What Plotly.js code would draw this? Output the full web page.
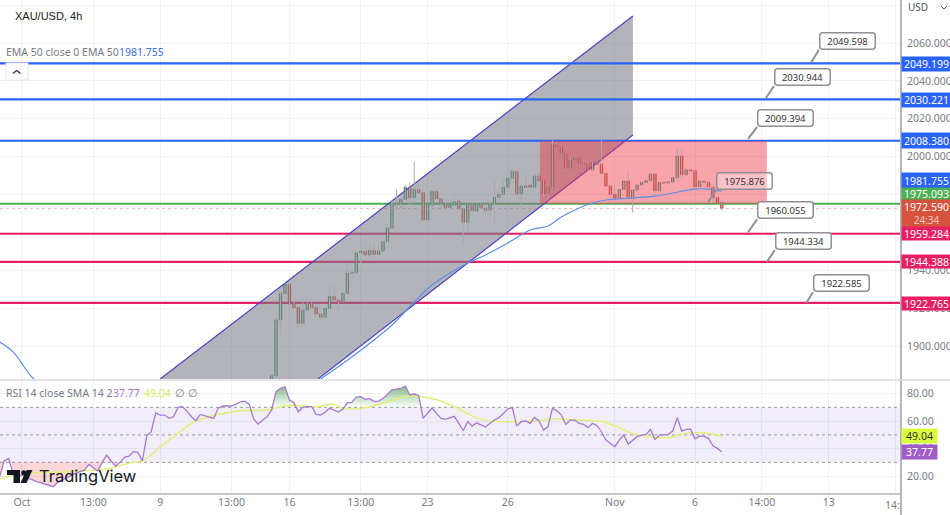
<!DOCTYPE html>
<html><head><meta charset="utf-8">
<script src="https://cdn.plot.ly/plotly-3.0.1.min.js"></script>
<style>html,body{margin:0;padding:0;background:#fff}#c{width:950px;height:515px}</style>
</head><body><div id="c"></div>
<script>
const firstBar = 56;
const opens = [1882.6,1884.2,1913.8,1927.7,1932.6,1922.2,1920.4,1912.0,1918.9,1922.6,1920.4,1916.9,1915.2,1919.9,1926.2,1924.3,1923.4,1927.8,1938.4,1938.7,1949.3,1950.0,1948.1,1950.5,1948.4,1950.2,1955.1,1962.2,1974.5,1975.7,1977.5,1983.8,1978.3,1982.7,1981.0,1966.6,1974.3,1981.7,1977.8,1975.0,1973.2,1974.3,1976.6,1972.5,1965.3,1975.0,1971.3,1975.0,1972.9,1971.7,1975.4,1978.5,1980.1,1983.8,1988.5,1992.3,1980.3,1984.5,1985.0,1983.8,1989.8,1987.3,1980.6,1983.8,2006.3,2004.9,2001.8,1993.8,1998.2,1999.3,1996.5,1996.0,1993.0,1997.2,1996.0,1991.2,1984.5,1980.1,1978.0,1982.7,1987.1,1978.0,1982.4,1985.0,1986.4,1987.3,1990.8,1982.0,1986.4,1986.1,1986.6,1988.9,2000.3,1990.5,1993.0,1992.6,1984.2,1987.1,1986.4,1983.8,1978.3,1975.7];
const highs = [1885.6,1919.0,1928.2,1933.1,1933.1,1924.3,1920.8,1925.2,1922.9,1924.3,1920.8,1917.3,1920.8,1931.4,1932.2,1924.7,1928.7,1943.7,1939.3,1949.8,1956.9,1956.9,1954.2,1954.2,1953.4,1955.5,1962.5,1977.1,1982.7,1978.0,1985.0,1986.3,1997.3,1985.0,1981.3,1974.6,1982.0,1982.0,1978.2,1975.4,1974.5,1980.6,1977.0,1972.9,1975.7,1975.4,1975.4,1975.4,1973.6,1976.2,1987.7,1980.6,1987.7,1989.4,1993.8,1992.6,1985.0,1991.2,1985.4,1991.2,1991.5,1987.7,1984.2,2009.7,2007.0,2005.6,2002.1,1999.1,2000.0,1999.6,1996.8,1996.3,1997.3,1997.5,2008.8,1991.5,1984.9,1984.2,1983.1,1987.5,1992.1,1982.8,1985.4,1986.8,1987.7,1991.2,1991.2,1986.8,1986.8,1987.0,1989.3,2004.4,2003.5,1993.3,1993.3,1992.9,1987.5,1987.5,1986.8,1984.2,1978.7,1976.0];
const lows = [1882.1,1883.8,1906.4,1927.5,1921.8,1920.3,1908.8,1911.6,1918.2,1919.9,1916.4,1913.4,1914.8,1919.6,1923.4,1919.9,1923.1,1927.5,1938.0,1938.4,1943.7,1947.5,1946.3,1946.3,1948.1,1949.8,1954.8,1961.8,1972.7,1972.7,1977.1,1974.5,1978.0,1980.6,1965.7,1965.2,1973.6,1977.5,1971.0,1972.9,1972.9,1973.9,1972.2,1954.2,1960.4,1971.1,1971.0,1972.6,1969.2,1968.7,1963.9,1978.2,1979.7,1983.4,1988.2,1979.7,1972.7,1983.4,1983.4,1983.3,1987.0,1978.9,1977.1,1983.3,2004.4,2001.4,1993.0,1993.3,1997.9,1996.1,1995.6,1992.6,1992.6,1995.6,1990.8,1984.2,1979.7,1977.6,1977.6,1982.4,1977.1,1970.4,1982.0,1984.7,1986.1,1987.0,1979.7,1981.7,1985.7,1985.7,1986.3,1988.0,1988.0,1990.1,1992.2,1983.3,1983.8,1986.3,1983.8,1975.4,1975.4,1971.5];
const closes = [1884.4,1913.8,1927.8,1932.6,1922.2,1920.4,1912.0,1918.9,1922.6,1920.4,1916.9,1915.2,1919.9,1926.2,1924.3,1923.4,1927.8,1938.4,1938.9,1949.3,1950.2,1948.1,1950.5,1948.4,1950.2,1955.1,1962.2,1974.5,1975.7,1977.5,1983.8,1978.3,1982.7,1981.0,1966.6,1974.3,1981.7,1977.8,1975.0,1973.2,1974.3,1976.2,1972.5,1965.3,1975.0,1971.5,1975.0,1972.9,1971.7,1975.0,1978.5,1980.1,1983.8,1988.5,1992.3,1980.3,1984.5,1983.8,1983.8,1989.8,1987.3,1980.6,1983.8,2006.3,2004.9,2001.8,1993.8,1998.2,1999.3,1996.5,1996.0,1993.0,1997.0,1996.0,1991.2,1984.5,1980.1,1978.0,1982.7,1987.1,1978.0,1982.4,1985.0,1986.4,1987.3,1990.8,1982.0,1986.4,1986.1,1986.6,1988.9,2000.3,1990.5,1993.0,1992.6,1984.2,1987.1,1986.6,1984.2,1978.3,1975.7,1972.6];

const emaBars = [-5,-2,2,4,null,67,74,83,88,92,96,100,104,109,114,118,121,125,128,131,137,142,146,151,154,157];
const emaVals = [1902.1,1896.9,1884.2,1880,null,1882.6,1894.2,1911.1,1923.3,1932.2,1938.6,1943.8,1948.1,1954.4,1961.3,1963.4,1968.1,1972.9,1975.5,1977.1,1978.2,1979.2,1980.8,1982.9,1982.9,1981.755];

const rsiFirstBar = -5;
const rsiVals = [19.6,31.0,32.9,22.0,19.6,20.8,18.4,17.9,16.4,15.5,14.5,13.5,12.3,15.5,17.2,18.8,20.8,22,23.2,24.4,28.5,26.4,23.7,30,35.3,31,27.3,30,33.6,34.6,37.8,37.3,31,49.4,52.3,65.9,64.4,64.4,62,63.2,70,70.5,67.3,63.2,60.3,64.9,63.9,63.2,62,69.3,71,71,71,72.4,74.1,74.6,72.2,61.5,57.9,60.8,63.2,68.1,81.4,83.8,85,75.3,73.4,66.8,70,70.5,70.5,64.9,64.4,66.4,69.3,68.1,66.6,68.8,73.4,73.6,77.5,77.8,75.8,76.3,74.4,74.6,76.5,79.5,82.8,83.3,83.8,85.5,79,79.9,78.5,62,66.1,69.5,65.6,62,61.3,62.5,63.5,58.4,53,59.6,56.4,58.8,57.2,55.7,58.4,60.8,62.5,65.6,68.8,70,56.4,59.6,60.1,58.4,62.7,60.1,53.5,55.9,69.3,67.6,64.4,57.6,60.8,60.8,58.4,57.6,55.2,58.4,56.7,52.3,46.2,43.8,41.4,46.2,49.9,43.3,46.2,48.7,49.9,50.4,54,46.7,49.9,50.4,50.4,52.8,62.5,52.8,54,54.2,47.2,49.1,49.1,47.5,42.1,40.2,37.77];
const smaBars = [-5,0,10,20,21,25,27,32,35,39,42,46,49,55,59,63,66,70,72,75,78,82,87,91,94,97,103,107,115,120,125,130,133,137,141,145,149,153,157];
const smaVals = [17.9,22,23.2,25.6,26.8,30,31,43.8,51.1,60.3,63.2,66.1,67.6,68.1,71.2,71,70.5,72.2,69.3,69,70.5,74.1,78.5,77,74.6,70.5,61.3,59.6,60.3,61.5,60.8,59.6,56.7,51.1,48.7,47.9,51.1,51.6,49.04];

const channelBars = [31,137.06,137.06,66.4];
const channelVals = [1882.6,2074.3,2011.4,1882.6];
const zoneBars = [116.2,167.1];
const zoneVals = [1975.0,2008.3];

const blueLevels = [2049.199,2030.221,2008.380];
const greenLevel = 1975.093;
const pinkLevels = [1959.284,1944.388,1922.765];
const lastPrice = 1972.590;

const calloutText = ['2049.598','2030.944','2009.394','1975.876','1960.055','1944.334','1922.585'];
const calloutBar = [177,166.9,162.9,153.9,162.9,167.1,175.9];
const calloutAx = [8,8,9,8,9,8,7];
const calloutAy = [-13,-12,-12,-12,-13,-12,-11];

const xTickVals = [0,16,31,47,60,76,91,109,133,151,166,181,196];
const xTickText = ['Oct','13:00','9','13:00','16','13:00','23','26','Nov','6','14:00','13',''];

const xr = [-4.93,197.2], yr = [1882.6,2082.7], rr = [7.0,89.2];
const W = 901, H = 494;
const fx = p => p/W, fy = p => 1-p/H;
const BLUE='#2962ff', PINK='#e91e63', GREEN='#4caf50', GRAY='#787b86';
const FONT='"Noto Sans", sans-serif';
const barsN = opens.map((_,i)=>firstBar+i);
const rsiBars = rsiVals.map((_,i)=>rsiFirstBar+i);
const px = {xaxis:'x2',yaxis:'y'}, pr = {xaxis:'x',yaxis:'y2'};
const hl = (v,c,w,extra) => Object.assign({type:'scatter',mode:'lines',x:xr,y:[v,v],line:Object.assign({color:c,width:w},extra||{}),hoverinfo:'skip'},px);
const rl = (v) => Object.assign({type:'scatter',mode:'lines',x:xr,y:[v,v],line:{color:'#9a9aa2',width:1,dash:'3px,3px'},hoverinfo:'skip'},pr);

// wicks as separate thin gray segments
const wx=[],wy=[];
barsN.forEach((b,i)=>{wx.push(b,b,null);wy.push(lows[i],highs[i],null);});

// RSI excursion polygons relative to a level
function runs(level,above){
  const xs=[],ys=[];
  let cur=null;
  const test=v=>above?v>level:v<level;
  for(let i=0;i<rsiVals.length;i++){
    const v=rsiVals[i];
    if(test(v)){
      if(!cur){cur=[];
        if(i>0){const p=rsiVals[i-1];cur.push([rsiBars[i-1]+(level-p)/(v-p),level]);}
        else cur.push([rsiBars[i],level]);}
      cur.push([rsiBars[i],v]);
    } else if(cur){
      const p=rsiVals[i-1];cur.push([rsiBars[i-1]+(level-p)/(v-p),level]);
      cur.forEach(q=>{xs.push(q[0]);ys.push(q[1]);});xs.push(null);ys.push(null);cur=null;
    }
  }
  return {xs,ys};
}
const over=runs(70,true), under=runs(30,false);

const data=[
  Object.assign({type:'scatter',mode:'lines',x:xr,y:[70,70],line:{width:0},hoverinfo:'skip'},pr),
  Object.assign({type:'scatter',mode:'lines',x:xr,y:[30,30],line:{width:0},fill:'tonexty',fillcolor:'rgba(126,87,194,0.1)',hoverinfo:'skip'},pr),
  rl(70),rl(50),rl(30),
  Object.assign({type:'scatter',mode:'none',x:over.xs,y:over.ys,fill:'toself',hoverinfo:'skip',
    fillgradient:{type:'vertical',start:70,stop:86,colorscale:[[0,'rgba(76,175,80,0.03)'],[1,'rgba(56,142,60,0.65)']]}},pr),
  Object.assign({type:'scatter',mode:'none',x:under.xs,y:under.ys,fill:'toself',fillcolor:'rgba(242,90,100,0.25)',hoverinfo:'skip'},pr),
  Object.assign({type:'scatter',mode:'lines',x:smaBars,y:smaVals,line:{color:'#e4ee7a',width:1.5,shape:'spline'},hoverinfo:'skip'},pr),
  Object.assign({type:'scatter',mode:'lines',x:rsiBars,y:rsiVals,line:{color:'#a877d2',width:1.3},hoverinfo:'skip'},pr),

  hl(lastPrice,'#f0a8a8',0.8,{dash:'dot'}),
  hl(greenLevel,GREEN,2),
  ...pinkLevels.map(v=>hl(v,PINK,2.2)),
  Object.assign({type:'scatter',mode:'lines',x:channelBars.concat(channelBars[0]),y:channelVals.concat(channelVals[0]),fill:'toself',fillcolor:'rgba(120,123,134,0.57)',line:{width:0},hoverinfo:'skip'},px),
  Object.assign({type:'scatter',mode:'lines',x:[channelBars[0],channelBars[1],null,channelBars[2],channelBars[3]],y:[channelVals[0],channelVals[1],null,channelVals[2],channelVals[3]],line:{color:'#4a42c4',width:1.2},hoverinfo:'skip'},px),
  ...blueLevels.map(v=>hl(v,BLUE,2.2)),
  Object.assign({type:'scatter',mode:'lines',x:[zoneBars[0],zoneBars[1],zoneBars[1],zoneBars[0],zoneBars[0]],y:[zoneVals[0],zoneVals[0],zoneVals[1],zoneVals[1],zoneVals[0]],fill:'toself',fillcolor:'rgba(242,54,69,0.45)',line:{width:0},hoverinfo:'skip'},px),
  Object.assign({type:'scatter',mode:'lines',x:emaBars,y:emaVals,connectgaps:false,line:{color:'#5a8fe8',width:1.2,shape:'spline'},hoverinfo:'skip'},px),
  Object.assign({type:'scatter',mode:'lines',x:wx,y:wy,line:{color:'#a9a9ad',width:1},hoverinfo:'skip'},px),
  Object.assign({type:'candlestick',x:barsN,open:opens,close:closes,
    high:opens.map((o,i)=>Math.max(o,closes[i])),low:opens.map((o,i)=>Math.min(o,closes[i])),
    whiskerwidth:0,
    increasing:{line:{color:'#3f8060',width:0.8},fillcolor:'#62a886'},
    decreasing:{line:{color:'#c8432f',width:0.8},fillcolor:'#e0533e'},hoverinfo:'skip'},px)
];

const ann=[];
const txt=(x,y,t,o)=>ann.push(Object.assign({xref:'paper',yref:'paper',x:fx(x),y:fy(y),text:t,showarrow:false,xanchor:'left',yanchor:'middle',font:{family:FONT,size:10.5,color:GRAY},borderpad:0},o||{}));
txt(14,16,'XAU/USD, 4h',{font:{family:'"Liberation Sans",sans-serif',size:11,color:'#1a1a1a'}});
txt(5,52,'EMA 50 close 0 EMA 50');
txt(118,52,'1981.755',{font:{family:FONT,size:10.5,color:'#3f6fe0'}});
txt(5,393,'RSI 14 close SMA 14 2');
txt(112,393,'37.77',{font:{family:FONT,size:10.5,color:'#a877d2'}});
txt(143,393,'49.04',{font:{family:FONT,size:10.5,color:'#d8ea5a'}});
txt(174,393,'∅ ∅');
txt(907,7,'USD',{font:{family:FONT,size:10,color:'#50535e'}});
txt(38,476,'TradingView',{font:{family:'"Inter",sans-serif',size:16.5,color:'#131722'}});
txt(901,505,'14:',{xanchor:'right',font:{family:FONT,size:10.5,color:GRAY}});

const tags=[['2049.199',BLUE,57,71],['2030.221',BLUE,93,107],['2008.380',BLUE,133,148],['1981.755',BLUE,173,188],['1975.093',GREEN,188,200],
 ['1972.590<br><span style="font-size:10px;color:#f6c9bd">24:34</span>','#d5523c',200,227],['1959.284',PINK,227,240],['1944.388',PINK,255,268],['1922.765',PINK,297,310]];
tags.forEach(t=>txt(901,(t[2]+t[3])/2,t[0],{width:49,height:t[3]-t[2],bgcolor:t[1],align:'center',valign:'middle',font:{family:FONT,size:10.5,color:'#fff'}}));
txt(901,436,'49.04',{width:35,height:14,bgcolor:'#dcff3c',align:'center',font:{family:FONT,size:10.5,color:'#333'}});
txt(901,452,'37.77',{width:35,height:14,bgcolor:'#a05cc8',align:'center',font:{family:FONT,size:10.5,color:'#fff'}});

calloutText.forEach((t,i)=>ann.push({xref:'x2',yref:'y',x:calloutBar[i],y:parseFloat(t),text:t,showarrow:true,arrowhead:0,arrowwidth:2,arrowcolor:'#8f8f95',
  axref:'pixel',ayref:'pixel',ax:calloutAx[i],ay:calloutAy[i],xanchor:'left',yanchor:'bottom',bgcolor:i===3?'rgba(255,255,255,0.35)':'#fff',bordercolor:'#8f8f95',borderwidth:1.5,borderpad:2,width:50,height:11,align:'center',
  font:{family:FONT,size:9.5,color:'#333'}}));

const seg=(a,b,c,d,col,w,layer)=>({type:'line',xref:'paper',yref:'paper',x0:fx(a),y0:fy(b),x1:fx(c),y1:fy(d),line:{color:col,width:w},layer:layer||'above'});
const poly=(pts,col)=>({type:'path',xref:'paper',yref:'paper',layer:'above',fillcolor:col,line:{width:0},path:'M'+pts.map(p=>fx(p[0])+','+fy(p[1])).join('L')+'Z'});
const shapes=[
  seg(901,0,901,515,'#b2b5be',2),
  seg(0,380,950,380,'#dcdde1',1.5),
  seg(0,494,901,494,'#b2b5be',1.5),
  {type:'rect',xref:'paper',yref:'paper',x0:fx(6),y0:fy(63),x1:fx(28),y1:fy(80),fillcolor:'#fff',line:{color:'#e4e5e9',width:1},layer:'above'},
  seg(13,73.5,16.7,70.5,'#333',1.3), seg(16.7,70.5,20.5,73.5,'#333',1.3),
  seg(941,6,944,9,'#50535e',1), seg(944,9,947,6,'#50535e',1),
  poly([[7,470],[20,470],[20,483],[13.5,483],[13.5,475],[7,475]],'#131722'),
  {type:'circle',xref:'paper',yref:'paper',layer:'above',x0:fx(21.2),x1:fx(26.2),y0:fy(470.2),y1:fy(475.2),fillcolor:'#131722',line:{width:0}},
  poly([[26.5,470],[32.5,470],[26.5,483],[20.5,483]],'#131722')
];

const layout={
  width:950,height:515,margin:{l:0,r:49,t:0,b:21,pad:0},paper_bgcolor:'#fff',plot_bgcolor:'#fff',showlegend:false,hovermode:false,dragmode:false,
  boxgap:0.22,
  xaxis:{domain:[0,1],anchor:'y2',range:xr,tickmode:'array',tickvals:xTickVals,ticktext:xTickText,tickangle:0,showgrid:true,gridcolor:'#f0f1f4',zeroline:false,ticks:'',tickfont:{family:FONT,size:10.5,color:GRAY},showline:false},
  xaxis2:{domain:[0,1],anchor:'y',range:xr,tickmode:'array',tickvals:xTickVals,showticklabels:false,showgrid:true,gridcolor:'#f0f1f4',zeroline:false,ticks:'',rangeslider:{visible:false}},
  yaxis:{domain:[(H-379)/H,1],range:yr,side:'right',anchor:'x2',dtick:20,tick0:1900,tickformat:'.3f',showgrid:true,gridcolor:'#f0f1f4',zeroline:false,ticks:'',ticklabelstandoff:5,tickfont:{family:FONT,size:10.5,color:GRAY}},
  yaxis2:{domain:[0,(H-381)/H],range:rr,side:'right',anchor:'x',dtick:20,tick0:20,tickformat:'.2f',showgrid:true,gridcolor:'#f0f1f4',zeroline:false,ticks:'',ticklabelstandoff:5,tickfont:{family:FONT,size:10.5,color:GRAY}},
  annotations:ann,shapes:shapes
};
Plotly.newPlot('c',data,layout,{displayModeBar:false,staticPlot:true}).then(()=>{
  document.querySelectorAll('.annotation').forEach(g=>{
    if(g.querySelector('path')){const r=g.querySelector('rect.bg');if(r){r.setAttribute('rx',3);r.setAttribute('ry',3);}}
  });
});
</script></body></html>
